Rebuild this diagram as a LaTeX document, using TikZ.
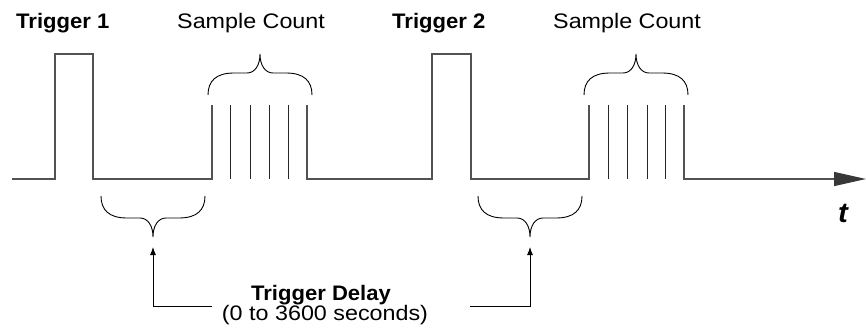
\documentclass[tikz,border=0pt]{standalone}
\usepackage{fontspec}
\setmainfont{Liberation Sans}
\newfontfamily\regf{Liberation Sans}[FakeStretch=1.11]
\newfontfamily\bldf{Liberation Sans}[FakeStretch=1.05]
\usetikzlibrary{arrows.meta}
\tikzset{
  wave/.style={draw=black!68, line width=1.3pt, line join=miter},
  samp/.style={draw=black!85, line width=0.9pt},
  brc/.style={draw=black, line width=0.9pt},
  conn/.style={draw=black, line width=0.9pt, -{Latex[length=8pt,width=6pt]}},
  lbl/.style={inner sep=0pt, font=\regf\fontsize{21}{24}\selectfont},
  blbl/.style={inner sep=0pt, font=\bldf\bfseries\fontsize{21}{24}\selectfont},
  pics/cbrace/.style={code={
    \draw[brc] (0,0) .. controls (0,-14) and (8,-22) .. (26,-22) -- (39,-22)
      .. controls (47,-22) and (52,-30) .. (52,-41)
      .. controls (52,-30) and (57,-22) .. (65,-22) -- (78,-22)
      .. controls (96,-22) and (104,-14) .. (104,0);
  }}
}
\begin{document}
\begin{tikzpicture}[x=1pt,y=-1pt]
\useasboundingbox (0,0) rectangle (866,334);

% labels
\node[blbl, anchor=base west] (trig1) at (16,29) {Trigger 1};
\node[lbl, anchor=base west] (sc1) at (177,29) {Sample Count};
\node[blbl, anchor=base west] (trig2) at (392,29) {Trigger 2};
\node[lbl, anchor=base west] (sc2) at (553,29) {Sample Count};
\node[blbl, anchor=base] (delay) at (321,300) {Trigger Delay};
\node[lbl, anchor=base] (range) at (325,320) {(0 to 3600 seconds)};
\node[inner sep=0pt, anchor=base, font=\bldf\bfseries\itshape\fontsize{28}{30}\selectfont] (tlab) at (843,222) {t};

% waveform
\draw[wave] (12,179) -- (55,179) -- (55,54) -- (93,54) -- (93,179) -- (212,179) -- (212,105);
\foreach \x in {230,250,269,288} \draw[samp] (\x,105) -- (\x,179);
\draw[wave] (307,105) -- (307,179) -- (432,179) -- (432,54) -- (471,54) -- (471,179) -- (589,179) -- (589,105);
\foreach \x in {608,627,647,665} \draw[samp] (\x,105) -- (\x,179);
\draw[wave, -{Triangle[length=32pt,width=14pt,fill=black!78,color=black!78]}] (684,105) -- (684,179) -- (866,179);

% braces
\pic at (208,95) {cbrace};
\pic at (584,95) {cbrace};
\pic[yscale=-1] at (101,196) {cbrace};
\pic[yscale=-1] at (478,196) {cbrace};

% connectors
\coordinate (d1) at (153,247);
\coordinate (d2) at (530,247);
\coordinate (l1) at (212,306);
\coordinate (l2) at (470,306);
\draw[conn] (l1) -| (d1);
\draw[conn] (l2) -| (d2);
\end{tikzpicture}
\end{document}
